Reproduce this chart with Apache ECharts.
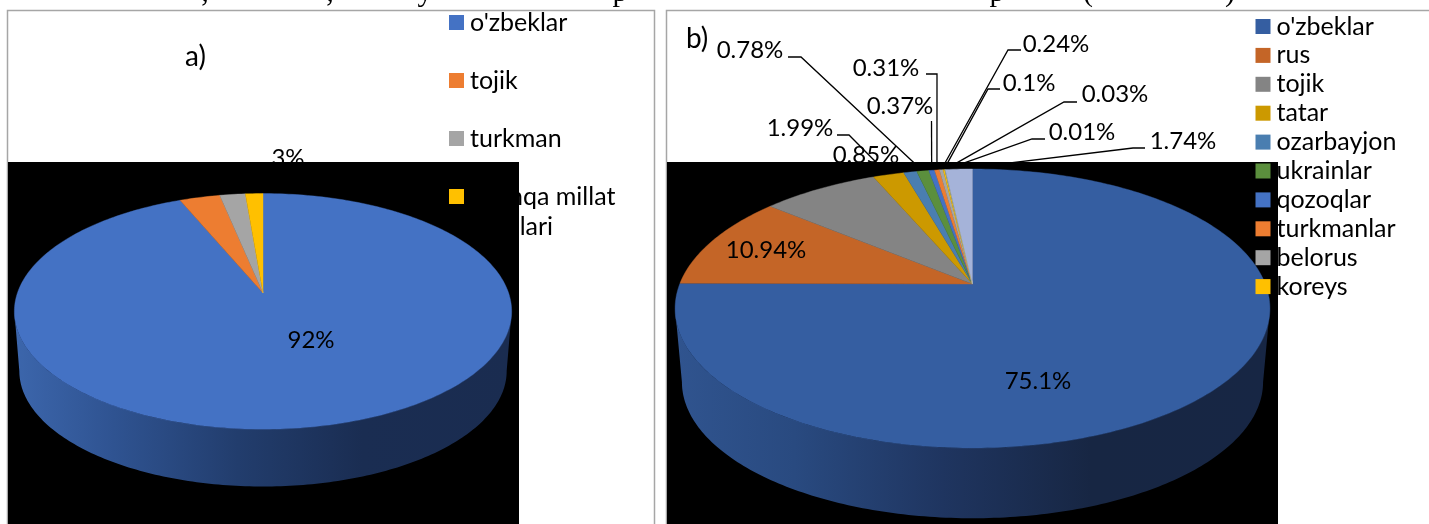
<!DOCTYPE html>
<html><head><meta charset="utf-8">
<style>html,body{margin:0;padding:0;background:#fff;overflow:hidden}#c{width:1429px;height:524px}</style>
<script src="https://cdn.jsdelivr.net/npm/echarts@6/dist/echarts.min.js"></script>
</head><body><div id="c"></div>
<script>
// ---- data ----
const aCategories = ["o'zbeklar", "tojik", "turkman", "boshqa millat vakillari"];
const aValues = [92, 3, 1.9, 1.3];
const aLabels = ["92%", "3%", "", ""];
const bCategories = ["o'zbeklar", "rus", "tojik", "tatar", "ozarbayjon", "ukrainlar", "qozoqlar", "turkmanlar", "belorus", "koreys", "boshqa 1", "boshqa 2", "boshqa 3"];
const bValues = [75.1, 10.94, 7.54, 1.99, 0.85, 0.78, 0.37, 0.31, 0.24, 0.1, 0.03, 0.01, 1.74];
const bLabels = ["75.1%", "10.94%", "", "1.99%", "0.85%", "0.78%", "0.37%", "0.31%", "0.24%", "0.1%", "0.03%", "0.01%", "1.74%"];
const bLegendCount = 10;

// ---- styles / layout ----
const aColors = ['#4472C4', '#ED7D31', '#A5A5A5', '#FFC000'];
const bColors = ['#355EA1', '#C46527', '#848484', '#CC9900', '#4A7EB0', '#5B8F3D', '#4472C4', '#ED7D31', '#A5A5A5', '#FFC000', '#5B9BD5', '#C8A020', '#A5B3D9'];
const FONT = 'Lato', FS = 24, LFS = 25;
const aPie = {ax: 263, ay: 293, R: 245.6, b: 115, k: 0.156, depth: 60, s: 0.98,
  wall: ['#3C66AC', '#2F5391', '#223D6D', '#1A2D52', '#1A2C50']};
const bPie = {ax: 972.5, ay: 284, R: 292.8, b: 135.2, k: 0.1756, depth: 74, s: 0.977,
  wall: ['#30548F', '#294A80', '#1F3560', '#172643', '#172644']};
// label centre, optional stub [x0,x1,y]
const aLabelPos = [{x: 311, y: 340}, {x: 288, y: 158}];
const bLabelPos = {
  0: {x: 1038, y: 381}, 1: {x: 766, y: 250},
  3: {x: 800, y: 128, stub: [837, 849, 135]},
  4: {x: 866, y: 155},
  5: {x: 750, y: 50, stub: [788, 801, 57]},
  6: {x: 900, y: 106, stub: [931.5, 931.5, 121]},
  7: {x: 886, y: 68, stub: [926, 937, 74]},
  8: {x: 1056, y: 44, stub: [1021, 1008, 50]},
  9: {x: 1029, y: 83, stub: [1000, 988, 89]},
  10: {x: 1115, y: 94, stub: [1077, 1064, 102]},
  11: {x: 1082, y: 132, stub: [1045, 1032, 139]},
  12: {x: 1183, y: 141, stub: [1145, 1133, 148]}
};

function project(p, frac) {
  const t = frac * 2 * Math.PI, u = Math.sin(t), v = -Math.cos(t), d = 1 - p.k * v;
  return [p.ax + p.R * u / d, p.ay + p.b * v / d];
}
function cumulate(vals) {
  const tot = vals.reduce((a, b) => a + b, 0); let c = 0;
  return vals.map(v => { const s = c; c += v; return [s / tot, c / tot]; });
}
function sliceSeries(p, cats, vals, colors) {
  return cumulate(vals).map((rng, i) => ({
    type: 'custom', name: cats[i], coordinateSystem: 'none', z: 4, silent: true,
    itemStyle: {color: colors[i]}, data: [rng],
    renderItem: (params, api) => {
      const s = api.value(0), e = api.value(1), n = Math.max(2, Math.ceil((e - s) * 360));
      const pts = [[p.ax, p.ay]];
      for (let j = 0; j <= n; j++) pts.push(project(p, s + (e - s) * j / n));
      return {type: 'polygon', shape: {points: pts},
        style: {fill: colors[i], stroke: colors[i], lineWidth: 0.4}};
    }
  }));
}
function wallSeries(p) {
  return {
    type: 'custom', name: 'wall', coordinateSystem: 'none', z: 3, silent: true, data: [[0]],
    renderItem: () => {
      const top = [], bot = [], n = 180;
      const off = Math.asin(p.k) / (2 * Math.PI), start = 0.25 + off, end = 0.75 - off;
      for (let j = 0; j <= n; j++) {
        const q = project(p, start + (end - start) * j / n);
        top.push(q);
        bot.unshift([p.ax + p.s * (q[0] - p.ax), p.ay + p.depth + p.s * (q[1] - p.ay)]);
      }
      return {type: 'polygon', shape: {points: top.concat(bot)}, style: {
        fill: new echarts.graphic.LinearGradient(1, 0, 0, 0, [
          {offset: 0, color: p.wall[4]}, {offset: 0.3, color: p.wall[3]},
          {offset: 0.55, color: p.wall[2]}, {offset: 0.8, color: p.wall[1]}, {offset: 1, color: p.wall[0]}
        ])}};
    }
  };
}
function labelSeries(p, vals, labels, pos, z) {
  const rng = cumulate(vals), rows = [];
  labels.forEach((t, i) => { if (t && pos[i]) rows.push(i); });
  return {
    type: 'custom', name: 'labels', coordinateSystem: 'none', z, silent: true,
    data: rows.map(i => [(rng[i][0] + rng[i][1]) / 2, i]),
    renderItem: (params, api) => {
      const i = api.value(1), q = pos[i], kids = [];
      if (q.stub) {
        const rim = project(p, api.value(0));
        kids.push({type: 'polyline', shape: {points: [[q.stub[0], q.stub[2]], [q.stub[1], q.stub[2]], rim]},
          style: {fill: 'none', stroke: '#000', lineWidth: 1.3}});
      }
      kids.push({type: 'text', x: q.x, y: q.y, style: {text: labels[i], fill: '#000',
        font: FS + 'px ' + FONT, textAlign: 'center', textVerticalAlign: 'middle'}});
      return {type: 'group', children: kids};
    }
  };
}
// labels above black panel vs on the slices
const aInsidePos = {0: aLabelPos[0]}, aOutPos = {1: aLabelPos[1]};
const bInsidePos = {0: bLabelPos[0], 1: bLabelPos[1]}, bOutPos = Object.assign({}, bLabelPos);
delete bOutPos[0]; delete bOutPos[1];

function legend(left, top, pitch, cats, colors) {
  return {
    left, top, orient: 'vertical', align: 'left', selectedMode: false, z: 5, padding: 0,
    itemWidth: 15, itemHeight: 15, itemGap: pitch - 25, icon: 'rect',
    formatter: n => n === 'boshqa millat vakillari' ? 'boshqa millat' : n,
    textStyle: {fontFamily: FONT, fontSize: LFS, color: '#000', lineHeight: 16, padding: [0, 0, 0, 1]},
    data: cats.map((name, i) => ({name, itemStyle: {color: colors[i]}}))
  };
}
const pieceText = (text, x) => ({type: 'text', z: 0, x, y: 8, style: {text, fill: '#000',
  font: '30px "Liberation Serif"', textAlign: 'center', textVerticalAlign: 'bottom'}});

const chart = echarts.init(document.getElementById('c'), null, {renderer: 'canvas'});
chart.setOption({
  animation: false, backgroundColor: '#fff', tooltip: {show: false},
  legend: [
    legend(449, 10, 58, aCategories, aColors),
    legend(1255.5, 14, 28.9, bCategories.slice(0, bLegendCount), bColors)
  ],
  graphic: {elements: [
    {type: 'rect', z: 0, shape: {x: 7.5, y: 10.5, width: 647, height: 520}, style: {fill: 'none', stroke: '#A6A6A6', lineWidth: 1.5}},
    {type: 'rect', z: 0, shape: {x: 666.5, y: 10.5, width: 800, height: 520}, style: {fill: 'none', stroke: '#A6A6A6', lineWidth: 1.5}},
    pieceText(',', 205), pieceText(',', 330), pieceText('y', 425), pieceText('p', 620),
    pieceText('p', 997), pieceText('(', 1088), pieceText(')', 1230),
    {type: 'text', z: 1, x: 185, y: 57, style: {text: 'a)', fill: '#000', font: '28px ' + FONT, textVerticalAlign: 'middle'}},
    {type: 'text', z: 1, x: 686, y: 39, style: {text: 'b)', fill: '#000', font: '28px ' + FONT, textVerticalAlign: 'middle'}},
    {type: 'text', z: 1, x: 470, y: 227, style: {text: 'vakillari', fill: '#000', font: LFS + 'px ' + FONT, textVerticalAlign: 'middle'}},
    {type: 'rect', z: 2, shape: {x: 8, y: 162, width: 511, height: 362}, style: {fill: '#000'}},
    {type: 'rect', z: 2, shape: {x: 667, y: 162, width: 611, height: 362}, style: {fill: '#000'}},
    {type: 'rect', z: 6, shape: {x: 468, y: 162, width: 51, height: 78}, style: {fill: '#000'}}
  ]},
  series: [
    labelSeries(aPie, aValues, aLabels, aOutPos, 1),
    labelSeries(bPie, bValues, bLabels, bOutPos, 1),
    wallSeries(aPie), wallSeries(bPie),
    ...sliceSeries(aPie, aCategories, aValues, aColors),
    ...sliceSeries(bPie, bCategories, bValues, bColors),
    labelSeries(aPie, aValues, aLabels, aInsidePos, 5),
    labelSeries(bPie, bValues, bLabels, bInsidePos, 5)
  ]
});
</script></body></html>
